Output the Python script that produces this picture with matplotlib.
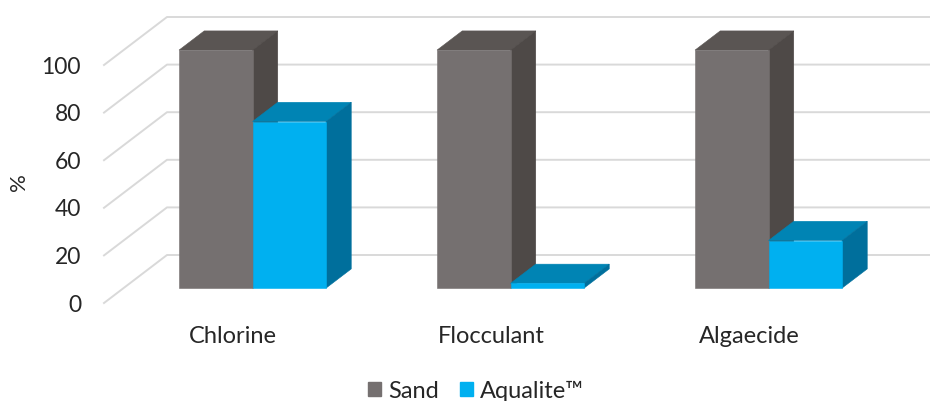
import matplotlib.pyplot as plt
from matplotlib.patches import Polygon, Patch

categories = ["Chlorine", "Flocculant", "Algaecide"]
sand = [100, 100, 100]
aqualite = [70, 2, 20]
y_ticks = [0, 20, 40, 60, 80, 100]

W, H = 930, 401
# front plane of the floor in pixels
left, right, bottom, top = 104, 878, 303, 65

# depth shear in data units (63 px across, 48 px up for the full depth)
dx = 63 / 258
dy = 48 / 2.38
bar_w = 73.5 / 258
d0, d1 = 0.31, 0.71


def project(x, y, d):
    return x + d * dx, y + d * dy


def draw_bar(ax, x, val, front, roof, side):
    x1 = x + bar_w
    box = [
        (roof, [(x, val, d0), (x1, val, d0), (x1, val, d1), (x, val, d1)]),
        (side, [(x1, 0, d0), (x1, 0, d1), (x1, val, d1), (x1, val, d0)]),
        (front, [(x, 0, d0), (x1, 0, d0), (x1, val, d0), (x, val, d0)]),
    ]
    for color, pts in box:
        ax.add_patch(Polygon([project(*p) for p in pts], closed=True,
                             facecolor=color, edgecolor=color, lw=0.4,
                             clip_on=False, zorder=3))


plt.rcParams["font.family"] = ["Lato", "DejaVu Sans"]

fig = plt.figure(figsize=(W / 100, H / 100), dpi=100)
ax = fig.add_axes([left / W, 1 - bottom / H, (right - left) / W, (bottom - top) / H])
ax.set_xlim(0, 3)
ax.set_ylim(0, 100)
for s in ax.spines.values():
    s.set_visible(False)

# floor/side wall gridlines
for v in y_ticks:
    x_back, y_back = project(0, v, 1)
    x_end, _ = project(3, v, 1)
    ax.plot([0, x_back, x_end], [v, y_back, y_back], color="#d9d9d9", lw=1.4,
            clip_on=False, zorder=1)

for i in range(len(categories)):
    x = i + 0.5 - bar_w
    draw_bar(ax, x, sand[i], "#757070", "#5a5553", "#4e4947")
    draw_bar(ax, x + bar_w, aqualite[i], "#00b0f0", "#0084b4", "#006f9c")

ax.set_yticks(y_ticks)
ax.set_xticks([i + 0.5 for i in range(len(categories))])
ax.set_xticklabels(categories)
ax.tick_params(axis="y", length=0, pad=16.5, labelsize=16.5, labelcolor="#262626")
ax.tick_params(axis="x", length=0, pad=16.5, labelsize=17, labelcolor="#262626")
fig.text(19 / W, 1 - 182 / H, "%", rotation=90, ha="center", va="center",
         fontsize=16, color="#262626")

handles = [Patch(color="#757070", label="Sand"), Patch(color="#00b0f0", label="Aqualite™")]
fig.legend(handles=handles, loc="center", bbox_to_anchor=(476 / W, 1 - 391 / H),
           ncol=2, frameon=False, fontsize=17, labelcolor="#262626",
           handlelength=0.55, handleheight=0.55, handletextpad=0.33, columnspacing=0.86,
           borderpad=0, borderaxespad=0)

fig.savefig("out.png", dpi=100)
